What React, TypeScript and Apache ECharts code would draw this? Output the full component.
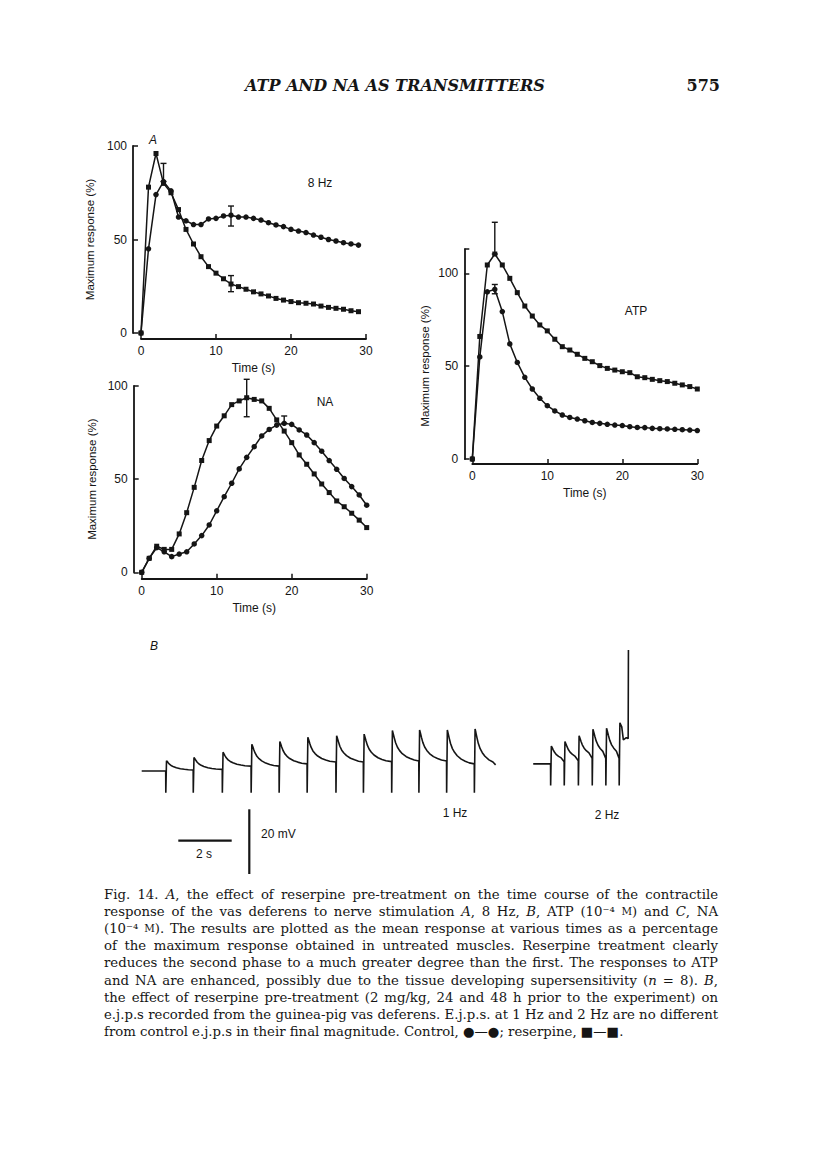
import React, { useEffect, useRef } from "react";
import * as echarts from "echarts";

const INK = "#151515";
const SANS = '"Liberation Sans", Arial, sans-serif';
const SERIF = '"DejaVu Serif", serif';

// ---------- Panel A : 8 Hz ----------
const time8Hz = [0, 1, 2, 3, 4, 5, 6, 7, 8, 9, 10, 11, 12, 13, 14, 15, 16, 17, 18, 19, 20, 21, 22, 23, 24, 25, 26, 27, 28, 29];
const control8Hz = [0, 45, 74, 81, 76, 62, 60, 58, 58, 61, 61.3, 62.6, 63, 62, 62, 61.3, 60.4, 59, 57.8, 56.9, 55.4, 54.5, 53.7, 52.4, 51.2, 50, 49.2, 48.3, 47.6, 47];
const reserpine8Hz = [0, 78, 96, 80, 75, 66, 55.4, 47.6, 40.8, 35.5, 32, 29, 26.2, 24.8, 23.4, 22, 20.9, 19.8, 18.5, 17.6, 16.8, 16.2, 15.9, 15.5, 14.4, 13.7, 13.2, 12.7, 11.9, 11.4];
// [time, low, high]
const err8Hz = [[3, 81, 90.7], [12, 57.2, 67.9], [12, 22.1, 30.7]];

// ---------- Panel : NA ----------
const timeNA = [0, 1, 2, 3, 4, 5, 6, 7, 8, 9, 10, 11, 12, 13, 14, 15, 16, 17, 18, 19, 20, 21, 22, 23, 24, 25, 26, 27, 28, 29, 30];
const controlNA = [0, 7.5, 13.2, 11, 8.4, 9.8, 11, 15.2, 19.7, 25.4, 33, 40.6, 47.8, 55.5, 61.7, 67.4, 73.2, 76.7, 79, 80, 79.4, 76.4, 73.7, 69.6, 65, 60, 55.3, 50.4, 46, 41.5, 36];
const reserpineNA = [0, 7.5, 14, 12.3, 12.3, 20.6, 32, 45.6, 60, 70.7, 78.5, 84, 90, 92, 93.7, 92.8, 92, 88, 81.8, 75.8, 69.6, 63, 58, 52.8, 47.4, 42.8, 38.3, 35.2, 31.7, 28, 24];
const errNA = [[14, 83.5, 103.6], [19, 80, 83.9]];

// ---------- Panel : ATP ----------
const timeATP = [0, 1, 2, 3, 4, 5, 6, 7, 8, 9, 10, 11, 12, 13, 14, 15, 16, 17, 18, 19, 20, 21, 22, 23, 24, 25, 26, 27, 28, 29, 30];
const controlATP = [0, 55, 90, 91.4, 79.4, 62, 52, 44, 37.7, 32.7, 28.7, 25.9, 23.7, 22.4, 21.5, 20.6, 19.7, 19.2, 18.7, 18.3, 18, 17.4, 17, 16.9, 16.5, 16.3, 16.2, 16, 15.8, 15.6, 15.3];
const reserpineATP = [0, 66, 104.5, 110.4, 104.5, 97.3, 89.6, 82.4, 77, 72.2, 69, 64.5, 60.5, 58.7, 56.4, 54.2, 52.4, 50.3, 48.8, 47.9, 47, 46.5, 44.3, 43.8, 42.9, 42.2, 41.7, 40.8, 39.9, 39, 37.7];
const errATP = [[3, 110.4, 127.5], [3, 89, 94]];

const responseTicks = [0, 50, 100];
const timeTicks = [0, 10, 20, 30];

// ---------- Panel B : e.j.p. recordings (time s, potential mV) ----------
const start1Hz = [0, 0];
const stim1Hz = [0.9, 1.93, 3.02, 4.1, 5.15, 6.2, 7.28, 8.31, 9.37, 10.39, 11.43, 12.47];
const base1Hz = [0, 0.3, 0.5, 1.5, 1.5, 2.2, 2.8, 2.8, 2.9, 3.1, 3.1, 2.2];
const peak1Hz = [3.2, 4.2, 5.8, 8.3, 9.1, 10.4, 10.9, 11.4, 12.5, 12.7, 12.7, 13.0];
const artefact1Hz = -6.7;
const tail1Hz = [[13.27, 1.9]];

const start2Hz = [14.68, 2.2];
const stim2Hz = [15.33, 15.84, 16.37, 16.89, 17.4, 17.9];
const base2Hz = [2.2, 2.9, 3.2, 3.9, 3.9, 3.9];
const peak2Hz = [7.7, 9.1, 10.9, 12.9, 13.2, 14.9];
const artefact2Hz = -4.5;
const tail2Hz = [[18.06, 9.6], [18.17, 10.3], [18.24, 10.0], [18.25, 37.4]];

// e.j.p. time course read from the record: [s after stimulus, fraction of amplitude remaining]
const ejpShape = [[0.03, 1], [0.06, 0.9], [0.1, 0.76], [0.15, 0.6], [0.22, 0.45], [0.3, 0.34], [0.4, 0.24], [0.55, 0.14], [0.7, 0.08], [0.85, 0.03]];

function buildTrain(start: number[], stims: number[], bases: number[], peaks: number[], artefact: number, tail: number[][]) {
  const pts: number[][] = [start];
  stims.forEach((s, i) => {
    const nextT = i + 1 < stims.length ? stims[i + 1] : tail[0][0];
    const nextV = i + 1 < bases.length ? bases[i + 1] : tail[0][1];
    pts.push([s, bases[i]], [s + 0.004, artefact], [s + 0.03, peaks[i]]);
    ejpShape.slice(1).forEach(([dt, f]) => {
      if (s + dt < nextT - 0.03) pts.push([s + dt, nextV + f * (peaks[i] - nextV)]);
    });
  });
  tail.forEach((p) => pts.push(p));
  return pts;
}

const captionLines = [
  "Fig. 14. *A*, the effect of reserpine pre-treatment on the time course of the contractile",
  "response of the vas deferens to nerve stimulation *A*, 8 Hz, *B*, ATP (10\u207B\u2074 ^M^) and *C*, NA",
  "(10\u207B\u2074 ^M^). The results are plotted as the mean response at various times as a percentage",
  "of the maximum response obtained in untreated muscles. Reserpine treatment clearly",
  "reduces the second phase to a much greater degree than the first. The responses to ATP",
  "and NA are enhanced, possibly due to the tissue developing supersensitivity (*n* = 8). *B*,",
  "the effect of reserpine pre-treatment (2 mg/kg, 24 and 48 h prior to the experiment) on",
  "e.j.p.s recorded from the guinea-pig vas deferens. E.j.p.s. at 1 Hz and 2 Hz are no different",
  "from control e.j.p.s in their final magnitude. Control, \u25CF\u2014\u25CF; reserpine, \u25A0\u2014\u25A0.",
];

const headerText = "ATP AND NA AS TRANSMITTERS";
const pageNumber = "575";
const yName = "Maximum response (%)";

type Seg = { text: string; kind: "n" | "i" | "s" };

function parseWord(w: string): Seg[] {
  const segs: Seg[] = [];
  let cur = "";
  let mode: "n" | "i" | "s" = "n";
  for (const ch of w) {
    if (ch === "*" || ch === "^") {
      if (cur) segs.push({ text: cur, kind: mode });
      cur = "";
      const m = ch === "*" ? "i" : "s";
      mode = mode === m ? "n" : m;
    } else cur += ch;
  }
  if (cur) segs.push({ text: cur, kind: mode });
  return segs;
}

function xAxisFor(gridIndex: number, offset: number) {
  return {
    gridIndex,
    type: "value",
    min: 0,
    max: 30,
    interval: 10,
    offset,
    axisLine: { onZero: false, lineStyle: { color: INK, width: 1.8 } },
    axisTick: { inside: true, length: 5, lineStyle: { color: INK, width: 1.5 } },
    axisLabel: { color: INK, fontSize: 12, fontFamily: SANS, margin: 6, formatter: (v: number) => (timeTicks.includes(v) ? String(v) : "") },
    splitLine: { show: false },
    name: "Time (s)",
    nameLocation: "middle",
    nameGap: 23,
    nameTextStyle: { color: INK, fontSize: 12, fontFamily: SANS },
  };
}

function yAxisFor(gridIndex: number, max: number, nameGap: number, withName: boolean) {
  return {
    gridIndex,
    type: "value",
    min: 0,
    max,
    interval: 50,
    offset: 8,
    axisLine: { onZero: false, lineStyle: { color: INK, width: 1.8 } },
    axisTick: { inside: true, length: 5, lineStyle: { color: INK, width: 1.5 } },
    axisLabel: { color: INK, fontSize: 12, fontFamily: SANS, margin: 6, formatter: (v: number) => (responseTicks.includes(v) ? String(v) : "") },
    splitLine: { show: false },
    name: withName ? yName : "",
    nameLocation: "middle",
    nameGap,
    nameTextStyle: { color: INK, fontSize: 11.5, fontFamily: SANS },
  };
}

function lineSeries(idx: number, t: number[], v: number[], symbol: string) {
  return {
    type: "line",
    xAxisIndex: idx,
    yAxisIndex: idx,
    data: t.map((x, i) => [x, v[i]]),
    symbol,
    symbolSize: symbol === "rect" ? 5 : 5.5,
    itemStyle: { color: INK },
    lineStyle: { color: INK, width: 1.5 },
    emphasis: { disabled: true },
    z: 3,
  };
}

function errorSeries(idx: number, data: number[][]) {
  return {
    type: "custom",
    xAxisIndex: idx,
    yAxisIndex: idx,
    data,
    encode: { x: 0, y: [1, 2] },
    z: 4,
    renderItem: (_p: any, api: any) => {
      const t = api.value(0);
      const lo = api.coord([t, api.value(1)]);
      const hi = api.coord([t, api.value(2)]);
      const cw = 3;
      const st = { stroke: INK, lineWidth: 1.4 };
      return {
        type: "group",
        children: [
          { type: "line", shape: { x1: hi[0], y1: hi[1], x2: lo[0], y2: lo[1] }, style: st },
          { type: "line", shape: { x1: hi[0] - cw, y1: hi[1], x2: hi[0] + cw, y2: hi[1] }, style: st },
          { type: "line", shape: { x1: lo[0] - cw, y1: lo[1], x2: lo[0] + cw, y2: lo[1] }, style: st },
        ],
      };
    },
  };
}

function textEl(text: string, x: number, y: number, size: number, extra: any = {}, rotation = 0) {
  return {
    type: "text",
    x,
    y,
    rotation,
    silent: true,
    style: { text, fill: INK, fontSize: size, fontFamily: SANS, align: "center", verticalAlign: "middle", ...extra },
  };
}

export default function App() {
  const ref = useRef<HTMLDivElement>(null);

  useEffect(() => {
    if (!ref.current) return;
    const chart = echarts.init(ref.current, null, { renderer: "svg" });

    const ctx = document.createElement("canvas").getContext("2d") as CanvasRenderingContext2D;
    const segWidth = (s: Seg, size: number) => {
      ctx.font = `${s.kind === "i" ? "italic " : ""}${s.kind === "s" ? size * 0.78 : size}px ${SERIF}`;
      return ctx.measureText(s.text).width;
    };

    // caption, justified between capLeft and capRight
    const capLeft = 104;
    const capRight = 718;
    const capTop = 894;
    const capLead = 17.2;
    const lines = captionLines.map((l) => l.split(" ").map(parseWord));
    const wordW = (w: Seg[], size: number) => w.reduce((a, s) => a + segWidth(s, size), 0);
    let capSize = 20;
    lines.slice(0, 8).forEach((ws) => {
      ctx.font = `100px ${SERIF}`;
      const sp = ctx.measureText(" ").width / 100;
      const nat = ws.reduce((a, w) => a + wordW(w, 100) / 100, 0) + sp * (ws.length - 1);
      capSize = Math.min(capSize, (capRight - capLeft) / nat);
    });
    ctx.font = `${capSize}px ${SERIF}`;
    const spaceW = ctx.measureText(" ").width;
    const captionEls: any[] = [];
    lines.forEach((ws, li) => {
      const widths = ws.map((w) => wordW(w, capSize));
      const total = widths.reduce((a, b) => a + b, 0);
      const gap = li < lines.length - 1 ? (capRight - capLeft - total) / (ws.length - 1) : spaceW;
      let x = capLeft;
      ws.forEach((w, wi) => {
        const rich = w.map((s) => (s.kind === "n" ? s.text : `{${s.kind}|${s.text}}`)).join("");
        captionEls.push({
          type: "text",
          x,
          y: capTop + li * capLead,
          silent: true,
          style: {
            text: rich,
            fill: INK,
            fontSize: capSize,
            fontFamily: SERIF,
            align: "left",
            verticalAlign: "middle",
            rich: {
              i: { fontStyle: "italic", fontSize: capSize, fontFamily: SERIF, fill: INK },
              s: { fontSize: capSize * 0.78, fontFamily: SERIF, fill: INK },
            },
          },
        });
        x += widths[wi] + gap;
      });
    });

    // running header
    ctx.font = `italic bold 100px ${SERIF}`;
    const headSize = (300 / ctx.measureText(headerText).width) * 100;

    const trace1Hz = buildTrain(start1Hz, stim1Hz, base1Hz, peak1Hz, artefact1Hz, tail1Hz);
    const trace2Hz = buildTrain(start2Hz, stim2Hz, base2Hz, peak2Hz, artefact2Hz, tail2Hz);

    const option: any = {
      animation: false,
      backgroundColor: "#ffffff",
      grid: [
        { left: 141, top: 146, width: 225, height: 187 },
        { left: 141.7, top: 386, width: 225, height: 186.3 },
        { left: 472.3, top: 249.2, width: 225, height: 209.8 },
        { left: 141.7, top: 641.6, width: 533.4, height: 155.3 },
      ],
      xAxis: [
        xAxisFor(0, 6),
        xAxisFor(1, 6.5),
        xAxisFor(2, 5),
        { gridIndex: 3, type: "value", min: 0, max: 20, show: false },
      ],
      yAxis: [
        yAxisFor(0, 100, 37, true),
        yAxisFor(1, 100, 36, true),
        yAxisFor(2, 113, 36, false),
        { gridIndex: 3, type: "value", min: -8, max: 40, show: false },
      ],
      series: [
        lineSeries(0, time8Hz, control8Hz, "circle"),
        lineSeries(0, time8Hz, reserpine8Hz, "rect"),
        errorSeries(0, err8Hz),
        lineSeries(1, timeNA, controlNA, "circle"),
        lineSeries(1, timeNA, reserpineNA, "rect"),
        errorSeries(1, errNA),
        lineSeries(2, timeATP, controlATP, "circle"),
        lineSeries(2, timeATP, reserpineATP, "rect"),
        errorSeries(2, errATP),
        {
          type: "line", xAxisIndex: 3, yAxisIndex: 3, data: trace1Hz, symbol: "none",
          lineStyle: { color: INK, width: 1.6 }, emphasis: { disabled: true }, clip: false,
        },
        {
          type: "line", xAxisIndex: 3, yAxisIndex: 3, data: trace2Hz, symbol: "none",
          lineStyle: { color: INK, width: 1.6 }, emphasis: { disabled: true }, clip: false,
        },
      ],
      graphic: {
        elements: [
          textEl(headerText, 245, 85, headSize, { fontFamily: SERIF, fontStyle: "italic", fontWeight: "bold", align: "left" }),
          textEl(pageNumber, 720, 85, headSize, { fontFamily: SERIF, fontWeight: "bold", align: "right" }),
          textEl("A", 153, 140, 12, { fontStyle: "italic" }),
          textEl("8 Hz", 320, 183, 12),
          textEl("NA", 325, 402, 12),
          textEl("ATP", 636, 311, 12),
          textEl(yName, 425, 366, 11.5, {}, Math.PI / 2),
          textEl("B", 154, 646, 12, { fontStyle: "italic" }),
          textEl("1 Hz", 455, 813, 12),
          textEl("2 Hz", 607, 815, 12),
          textEl("2 s", 204, 854, 12),
          textEl("20 mV", 261, 834, 12, { align: "left" }),
          { type: "line", silent: true, shape: { x1: 178.3, y1: 840.7, x2: 231.7, y2: 840.7 }, style: { stroke: INK, lineWidth: 2.2 } },
          { type: "line", silent: true, shape: { x1: 249.3, y1: 809.3, x2: 249.3, y2: 874 }, style: { stroke: INK, lineWidth: 2.2 } },
          ...captionEls,
        ],
      },
    };

    chart.setOption(option);
    return () => chart.dispose();
  }, []);

  return (
    <div
      ref={ref}
      style={{ position: "absolute", left: 0, top: 0, width: 816, height: 1163, background: "#fff" }}
    />
  );
}
